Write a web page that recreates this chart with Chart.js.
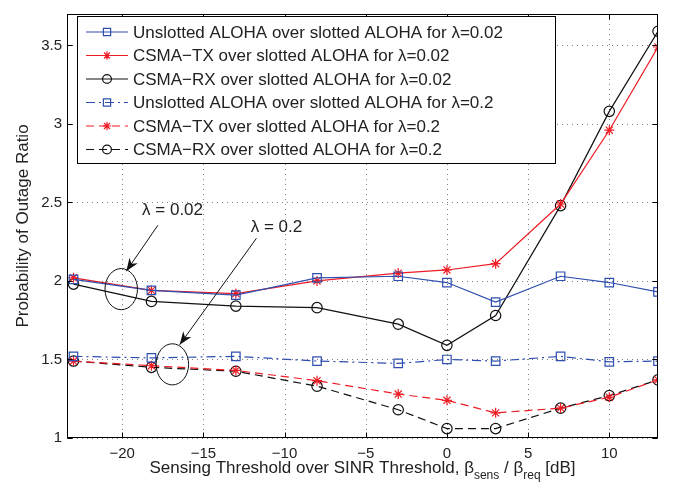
<!DOCTYPE html>
<html>
<head>
<meta charset="utf-8">
<script src="https://cdn.jsdelivr.net/npm/chart.js@4.4.1/dist/chart.umd.min.js"></script>
<style>
  html, body { margin: 0; padding: 0; background: #fff; }
  #wrap { width: 683px; height: 489px; position: relative; }
</style>
</head>
<body>
<div id="wrap"><canvas id="chart"></canvas></div>
<script>
// sensing threshold over SINR threshold [dB]
const xValues = [-23, -18.2, -13, -8, -3, 0, 3, 7, 10, 13];

// lambda = 0.02
const unslottedLow = [2.01, 1.94, 1.91, 2.02, 2.03, 1.99, 1.865, 2.03, 1.99, 1.93];
const csmaTxLow    = [2.02, 1.94, 1.92, 2.00, 2.05, 2.07, 2.11, 2.49, 2.96, 3.49];
const csmaRxLow    = [1.98, 1.87, 1.84, 1.83, 1.725, 1.59, 1.78, 2.48, 3.08, 3.59];

// lambda = 0.2
const unslottedHigh = [1.52, 1.51, 1.52, 1.49, 1.475, 1.50, 1.49, 1.52, 1.485, 1.49];
const csmaTxHigh    = [1.49, 1.46, 1.43, 1.365, 1.28, 1.24, 1.16, 1.19, 1.26, 1.37];
const csmaRxHigh    = [1.49, 1.45, 1.425, 1.33, 1.18, 1.06, 1.06, 1.19, 1.27, 1.37];

const seriesNames = [
    'Unslotted ALOHA over slotted ALOHA for \u03bb=0.02',
    'CSMA\u2212TX over slotted ALOHA for \u03bb=0.02',
    'CSMA\u2212RX over slotted ALOHA for \u03bb=0.02',
    'Unslotted ALOHA over slotted ALOHA for \u03bb=0.2',
    'CSMA\u2212TX over slotted ALOHA for \u03bb=0.2',
    'CSMA\u2212RX over slotted ALOHA for \u03bb=0.2'
];

const xTicks = [-20, -15, -10, -5, 0, 5, 10];
const yTicks = [1, 1.5, 2, 2.5, 3, 3.5];

const BLUE = '#2f4fae', RED = '#ee1c25', BLACK = '#111';
const FONT = '"Liberation Sans", Arial, Helvetica, sans-serif';

const toPoints = vals => vals.map((v, i) => ({ x: xValues[i], y: v }));

const makeSet = (name, vals, color, style, radius, dash) => ({
    label: name,
    data: toPoints(vals),
    borderColor: color,
    backgroundColor: 'transparent',
    borderWidth: 1.2,
    borderDash: dash,
    pointStyle: style,
    pointRadius: radius,
    pointHoverRadius: radius,
    pointBorderColor: color,
    pointBackgroundColor: 'transparent',
    pointBorderWidth: 1.2,
    tension: 0
});

const datasets = [
    makeSet(seriesNames[0], unslottedLow, BLUE, 'rect', 6, []),
    makeSet(seriesNames[1], csmaTxLow, RED, 'star', 5, []),
    makeSet(seriesNames[2], csmaRxLow, BLACK, 'circle', 5.2, []),
    makeSet(seriesNames[3], unslottedHigh, BLUE, 'rect', 6, [9, 4, 2, 4]),
    makeSet(seriesNames[4], csmaTxHigh, RED, 'star', 5, [8, 5]),
    makeSet(seriesNames[5], csmaRxHigh, BLACK, 'circle', 5.2, [8, 5])
];

// annotations, in data units
const notes = [
    { text: '\u03bb = 0.02', tx: -16.9, ty: 2.45, ax: -17.8, ay: 2.355, bx: -19.75, by: 2.062, ex: -20.06, ey: 1.948 },
    { text: '\u03bb = 0.2', tx: -10.5, ty: 2.34, ax: -11.73, ay: 2.272, bx: -16.46, by: 1.594, ex: -16.91, ey: 1.469 }
];
const ellipseRx = 1.0, ellipseRy = 0.131;

const fmtTick = v => v < 0 ? '\u2212' + Math.abs(v) : String(v);

const drawArrow = (ctx, x1, y1, x2, y2) => {
    ctx.beginPath();
    ctx.moveTo(x1, y1);
    ctx.lineTo(x2, y2);
    ctx.stroke();
    const ang = Math.atan2(y2 - y1, x2 - x1);
    const len = 13, wid = 5;
    const bx = x2 - len * Math.cos(ang), by = y2 - len * Math.sin(ang);
    const nx = -Math.sin(ang), ny = Math.cos(ang);
    const mx = x2 - len * 0.7 * Math.cos(ang), my = y2 - len * 0.7 * Math.sin(ang);
    ctx.beginPath();
    ctx.moveTo(x2, y2);
    ctx.lineTo(bx + nx * wid, by + ny * wid);
    ctx.lineTo(mx, my);
    ctx.lineTo(bx - nx * wid, by - ny * wid);
    ctx.closePath();
    ctx.fill();
};

const plotExtras = {
    id: 'plotExtras',
    beforeDatasetsDraw(chart) {
        // dotted grid, matlab style
        const { ctx, chartArea: a, scales: { x, y } } = chart;
        ctx.save();
        ctx.strokeStyle = '#808080';
        ctx.lineWidth = 1;
        ctx.setLineDash([1, 4]);
        ctx.beginPath();
        xTicks.forEach(v => {
            const px = Math.round(x.getPixelForValue(v)) + 0.5;
            ctx.moveTo(px, a.top); ctx.lineTo(px, a.bottom);
        });
        yTicks.forEach(v => {
            const py = Math.round(y.getPixelForValue(v)) + 0.5;
            ctx.moveTo(a.left, py); ctx.lineTo(a.right, py);
        });
        ctx.stroke();
        ctx.restore();
    },
    afterDatasetsDraw(chart) {
        const { ctx, chartArea: a, scales: { x, y } } = chart;
        ctx.save();

        // box and inward ticks
        ctx.strokeStyle = '#000';
        ctx.lineWidth = 1;
        const L = Math.round(a.left) + 0.5, R = Math.round(a.right) - 0.5;
        const T = Math.round(a.top) + 0.5, B = Math.round(a.bottom) - 0.5;
        ctx.strokeRect(L, T, R - L, B - T);
        ctx.beginPath();
        xTicks.forEach(v => {
            const px = Math.round(x.getPixelForValue(v)) + 0.5;
            ctx.moveTo(px, B); ctx.lineTo(px, B - 5);
            ctx.moveTo(px, T); ctx.lineTo(px, T + 5);
        });
        yTicks.forEach(v => {
            const py = Math.round(y.getPixelForValue(v)) + 0.5;
            ctx.moveTo(L, py); ctx.lineTo(L + 5, py);
            ctx.moveTo(R, py); ctx.lineTo(R - 5, py);
        });
        ctx.stroke();

        // annotations
        ctx.strokeStyle = '#111';
        ctx.fillStyle = '#111';
        ctx.lineWidth = 1;
        ctx.font = '17px ' + FONT;
        ctx.textAlign = 'center';
        ctx.textBaseline = 'middle';
        notes.forEach(n => {
            const cx = x.getPixelForValue(n.ex), cy = y.getPixelForValue(n.ey);
            const rx = Math.abs(x.getPixelForValue(n.ex + ellipseRx) - cx);
            const ry = Math.abs(y.getPixelForValue(n.ey + ellipseRy) - cy);
            ctx.beginPath();
            ctx.ellipse(cx, cy, rx, ry, 0, 0, Math.PI * 2);
            ctx.stroke();
            drawArrow(ctx, x.getPixelForValue(n.ax), y.getPixelForValue(n.ay),
                x.getPixelForValue(n.bx), y.getPixelForValue(n.by));
            ctx.fillStyle = '#222';
            ctx.fillText(n.text, x.getPixelForValue(n.tx), y.getPixelForValue(n.ty));
            ctx.fillStyle = '#111';
        });

        // legend box
        const lx = 77, ly = 16, lw = 478, lh = 147;
        ctx.fillStyle = '#fff';
        ctx.fillRect(lx, ly, lw, lh);
        ctx.strokeStyle = '#000';
        ctx.strokeRect(lx + 0.5, ly + 0.5, lw, lh);
        ctx.textAlign = 'left';
        ctx.textBaseline = 'middle';
        chart.data.datasets.forEach((ds, i) => {
            const ry = ly + 16 + i * 23.5;
            ctx.save();
            ctx.strokeStyle = ds.borderColor;
            ctx.lineWidth = ds.borderWidth;
            ctx.setLineDash(ds.borderDash);
            ctx.beginPath();
            ctx.moveTo(86, ry); ctx.lineTo(128, ry);
            ctx.stroke();
            ctx.setLineDash([]);
            ctx.fillStyle = 'transparent';
            Chart.helpers.drawPoint(ctx, { pointStyle: ds.pointStyle, radius: ds.pointRadius * 0.85, rotation: 0, borderWidth: 1.2 }, 107, ry);
            ctx.restore();
            ctx.fillStyle = '#222';
            ctx.font = '17px ' + FONT;
            ctx.fillText(ds.label, 133, ry + 1);
        });

        // x title with subscripts
        const parts = [
            ['Sensing Threshold over SINR Threshold, \u03b2', false],
            ['sens', true],
            [' / \u03b2', false],
            ['req', true],
            [' [dB]', false]
        ];
        const big = '17px ' + FONT, small = '12px ' + FONT;
        let total = 0;
        parts.forEach(p => { ctx.font = p[1] ? small : big; total += ctx.measureText(p[0]).width; });
        let cx = (a.left + a.right) / 2 - total / 2;
        ctx.textBaseline = 'alphabetic';
        ctx.fillStyle = '#222';
        parts.forEach(p => {
            ctx.font = p[1] ? small : big;
            ctx.fillText(p[0], cx, p[1] ? 479 : 473);
            cx += ctx.measureText(p[0]).width;
        });
        ctx.restore();
    }
};

new Chart(document.getElementById('chart'), {
    type: 'line',
    data: { datasets },
    options: {
        responsive: true,
        maintainAspectRatio: false,
        animation: false,
        events: [],
        layout: { padding: { left: 0, right: 25, top: 5, bottom: 0 } },
        plugins: { legend: { display: false }, tooltip: { enabled: false } },
        scales: {
            x: {
                type: 'linear',
                min: -23.4,
                max: 13,
                afterBuildTicks: s => { s.ticks = xTicks.map(v => ({ value: v })); },
                afterFit: s => { s.height = 51; },
                grid: { drawOnChartArea: false, drawTicks: false },
                border: { display: false },
                ticks: { padding: 7, color: '#222', font: { size: 15, family: FONT }, callback: fmtTick, maxRotation: 0 }
            },
            y: {
                min: 1,
                max: 3.7,
                afterBuildTicks: s => { s.ticks = yTicks.map(v => ({ value: v })); },
                afterFit: s => { s.width = 67; },
                grid: { drawOnChartArea: false, drawTicks: false },
                border: { display: false },
                ticks: { padding: 5, color: '#222', font: { size: 15, family: FONT }, callback: v => String(v) },
                title: { display: true, text: 'Probability of Outage Ratio', color: '#222', font: { size: 17, family: FONT }, padding: { top: 13, bottom: 0 } }
            }
        }
    },
    plugins: [plotExtras]
});
</script>
</body>
</html>
